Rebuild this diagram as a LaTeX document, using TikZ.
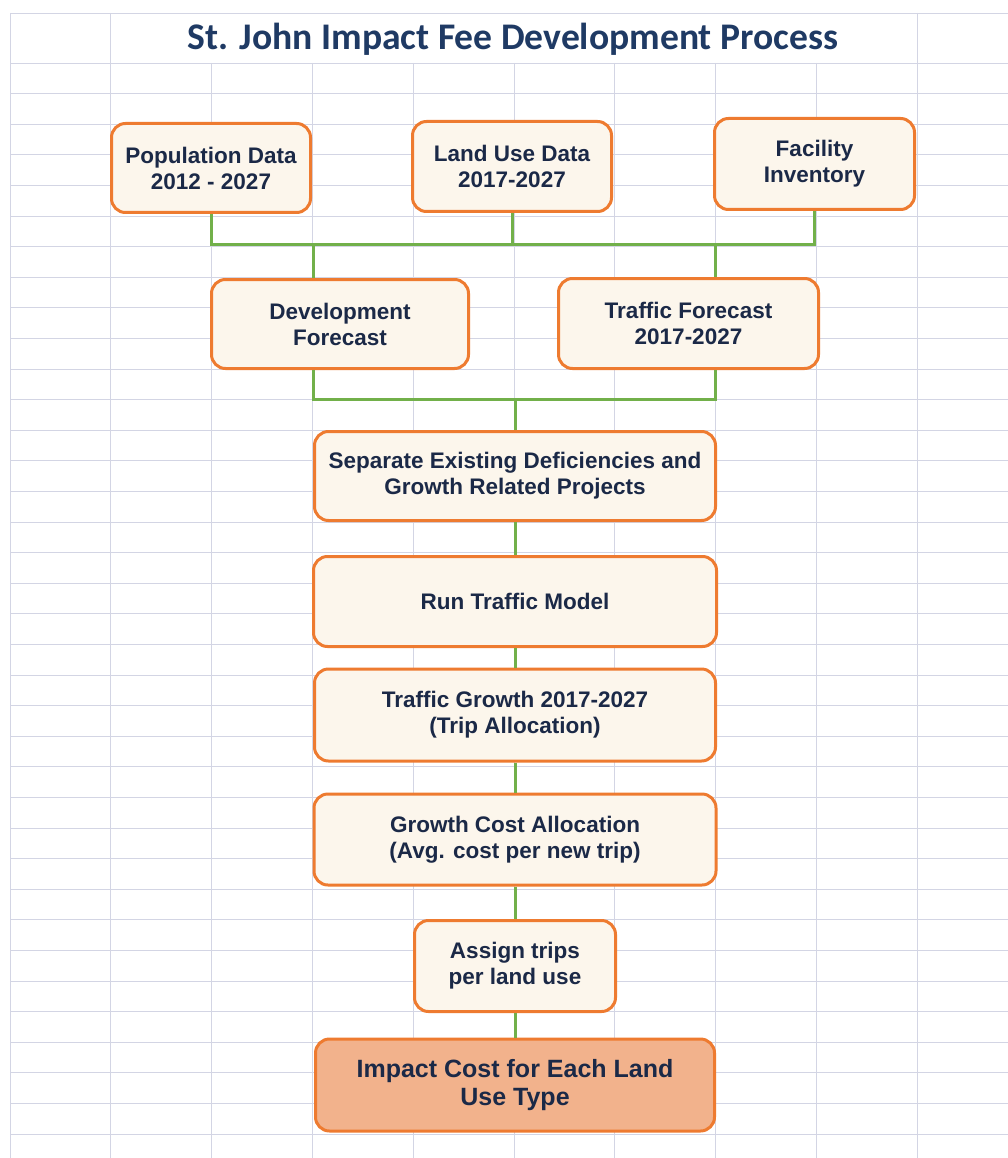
\documentclass[tikz,border=0pt]{standalone}
\usepackage{fontspec}
\setmainfont{Liberation Sans}
\newfontfamily\titlefont{Carlito}
\usetikzlibrary{calc}
\definecolor{gridc}{HTML}{D3D5E4}
\definecolor{boxedge}{HTML}{EE7B30}
\definecolor{boxfill}{HTML}{FCF6EC}
\definecolor{endfill}{HTML}{F2B28C}
\definecolor{linkc}{HTML}{72B04A}
\definecolor{txtc}{HTML}{1B2947}
\definecolor{titlec}{HTML}{1F3A64}
\begin{document}
\begin{tikzpicture}[x=1pt,y=-1pt,
  box/.style={draw=boxedge, line width=3pt, fill=boxfill, rounded corners=14pt,
    align=center, font=\fontsize{22.5}{26}\selectfont\bfseries, text=txtc, inner sep=0pt},
  conn/.style={draw=linkc, line width=3pt},
  gridl/.style={draw=gridc, line width=0.7pt}]
\useasboundingbox (0,0) rectangle (1008,1158);
\fill[white] (0,0) rectangle (1008,1158);
% spreadsheet grid
\draw[gridl] (10,13) -- (1008,13);
\foreach \k in {0,...,35} {\pgfmathsetmacro\yy{63+30.6*\k}
  \draw[gridl] (10,\yy) -- (1008,\yy);}
\foreach \i in {0,...,9} {\pgfmathsetmacro\xx{10+100.8*\i}
  \draw[gridl] (\xx,63) -- (\xx,1158);}
\foreach \xx in {10,110.8,917.2} \draw[gridl] (\xx,13) -- (\xx,63);
% title
\node[font=\titlefont\bfseries\fontsize{37.6}{41}\selectfont, text=titlec, anchor=base] (title) at (513,50) {St. John Impact Fee Development Process};
% boxes
\node[box, minimum width=199, minimum height=89] (pop) at (211,168) {Population Data\\2012 - 2027};
\node[box, minimum width=199, minimum height=90] (land) at (512,166.5) {Land Use Data\\2017-2027};
\node[box, minimum width=200, minimum height=91] (fac) at (814.5,164) {Facility\\Inventory};
\node[box, minimum width=257, minimum height=89] (dev) at (340,324) {Development\\Forecast};
\node[box, minimum width=260, minimum height=90] (tf) at (688.5,323.5) {Traffic Forecast\\2017-2027};
\node[box, minimum width=401, minimum height=89] (sep) at (515,476) {Separate Existing Deficiencies and\\Growth Related Projects};
\node[box, minimum width=403, minimum height=90] (run) at (515,601.5) {Run Traffic Model};
\node[box, minimum width=401, minimum height=92] (tg) at (515,715) {Traffic Growth 2017-2027\\(Trip Allocation)};
\node[box, minimum width=402, minimum height=91] (gc) at (515,839.5) {Growth Cost Allocation\\(Avg. cost per new trip)};
\node[box, minimum width=201, minimum height=91] (as) at (515,966) {Assign trips\\per land use};
\node[box, fill=endfill, minimum width=399, minimum height=92, font=\fontsize{25}{28}\selectfont\bfseries] (imp) at (515,1085) {Impact Cost for Each Land\\Use Type};
% connectors
\coordinate (b1) at (0,245);
\draw[conn] (pop.south) |- (fac.south |- b1) -- (fac.south);
\draw[conn] (land.south) -- (land.south |- b1);
\coordinate (d1) at (313,245);
\coordinate (t1) at (715,245);
\draw[conn] (d1) -- (d1 |- dev.north);
\draw[conn] (t1) -- (t1 |- tf.north);
\coordinate (d2) at (313,399);
\coordinate (t2) at (715,399);
\coordinate (m2) at (515,399);
\draw[conn] (d2 |- dev.south) -- (d2) -- (t2) -- (t2 |- tf.south);
\draw[conn] (m2) -- (m2 |- sep.north);
\draw[conn] (sep.south) -- (run.north);
\draw[conn] (run.south) -- (tg.north);
\draw[conn] (tg.south) -- (gc.north);
\draw[conn] (gc.south) -- (as.north);
\draw[conn] (as.south) -- (imp.north);
\end{tikzpicture}
\end{document}
